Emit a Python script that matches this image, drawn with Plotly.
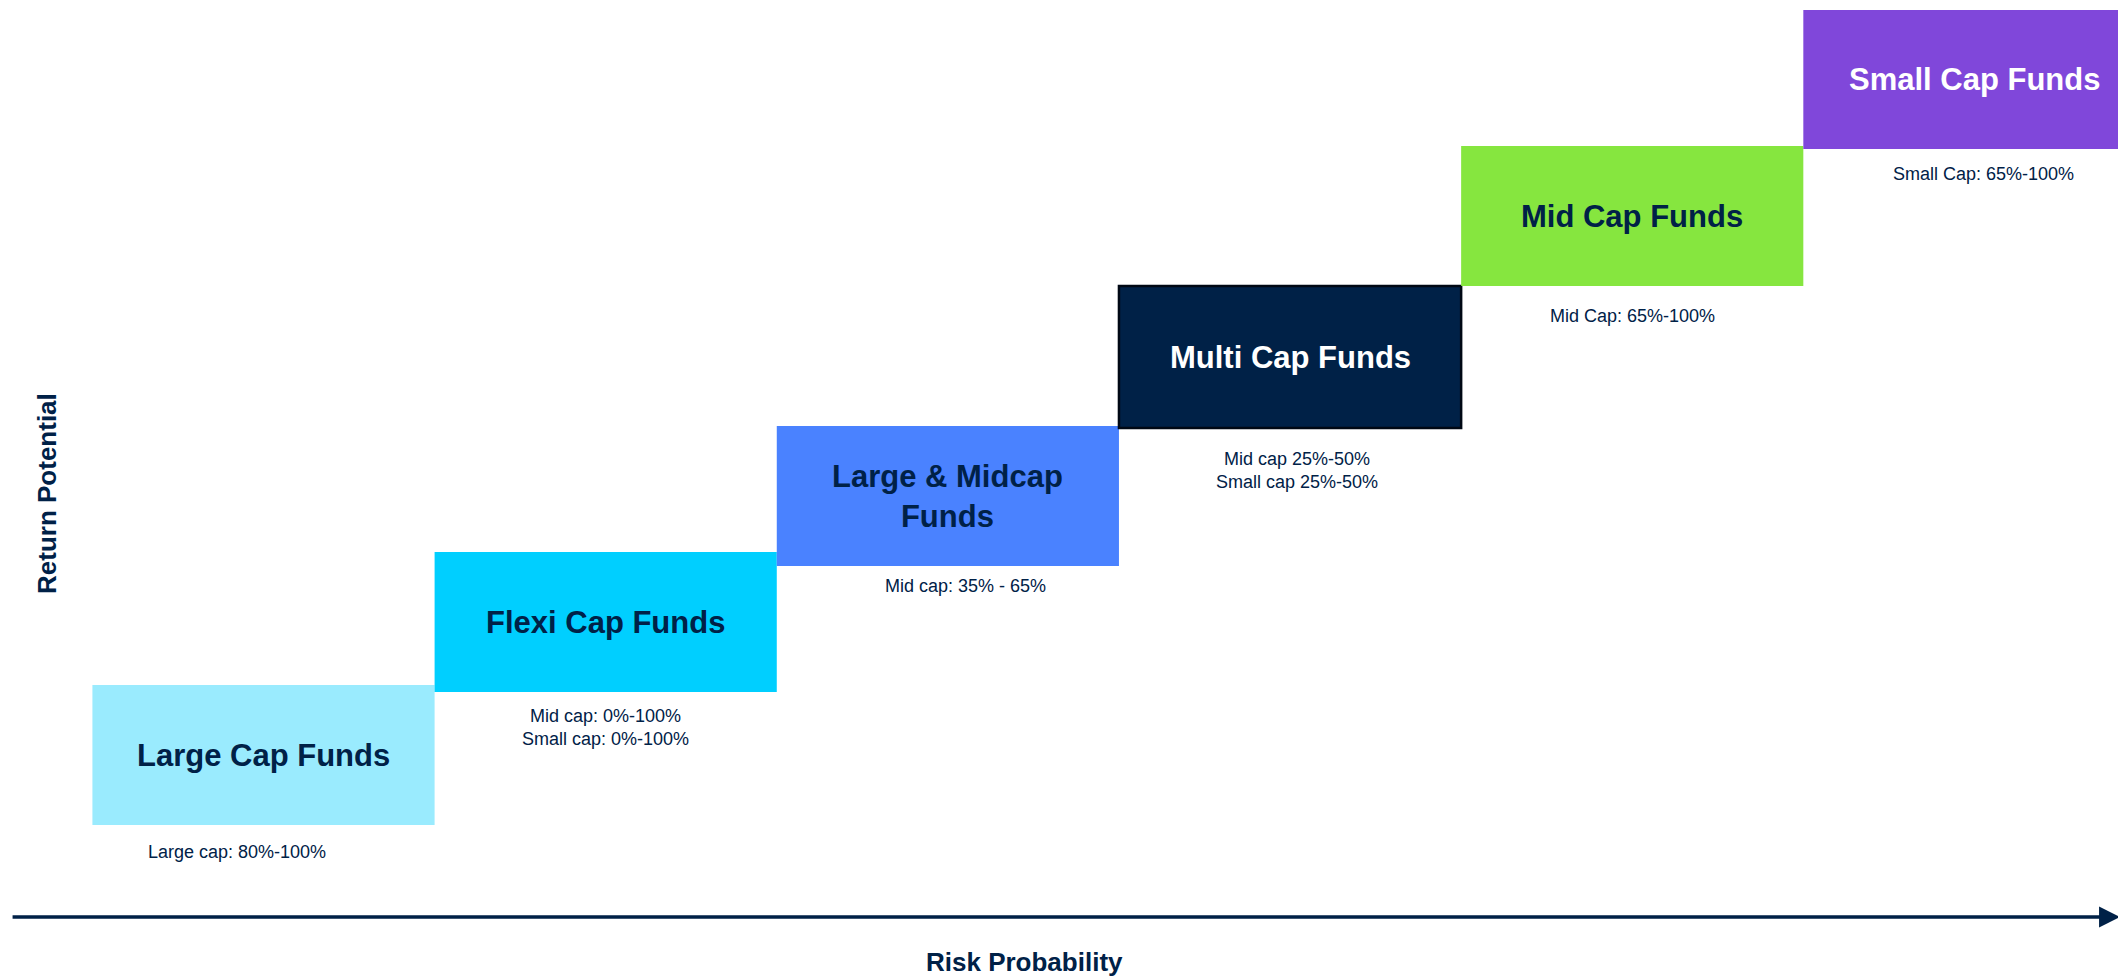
import plotly.graph_objects as go

# fund categories, ordered by risk (x) and return potential (y)
funds = ['Large Cap Funds', 'Flexi Cap Funds', 'Large &amp; Midcap<br>Funds',
         'Multi Cap Funds', 'Mid Cap Funds', 'Small Cap Funds']
allocations = ['Large cap: 80%-100%',
               'Mid cap: 0%-100%<br>Small cap: 0%-100%',
               'Mid cap: 35% - 65%',
               'Mid cap 25%-50%<br>Small cap 25%-50%',
               'Mid Cap: 65%-100%',
               'Small Cap: 65%-100%']
risk = [1, 2, 3, 4, 5, 6]
return_low = [1.55, 2.88, 4.14, 5.52, 6.94, 8.31]
return_high = [2.95, 4.28, 5.54, 6.94, 8.34, 9.70]

colors = ['#9AEBFE', '#00CFFF', '#4A82FF', '#002147', '#86E63F', '#8047DA']
label_colors = ['#002147', '#002147', '#002147', 'white', '#002147', 'white']

NAVY = '#002147'
FONT = 'Liberation Sans, Arial, sans-serif'

# pixel nudges for the allocation notes under each box
note_dx = [-27, 0, 18, 7, 0, 9]
note_dy = [-27, -35, -20, -42, -30, -25]

fig = go.Figure(go.Bar(
    x=risk,
    y=[h - l for h, l in zip(return_high, return_low)],
    base=return_low,
    width=1,
    marker=dict(color=colors,
                line=dict(color='#000814', width=[0, 0, 0, 2.5, 0, 0])),
    hoverinfo='skip',
))

for i in range(len(funds)):
    fig.add_annotation(
        x=risk[i], y=(return_low[i] + return_high[i]) / 2,
        text='<b>' + funds[i] + '</b>', showarrow=False,
        font=dict(family=FONT, size=31, color=label_colors[i]),
        xanchor='center', yanchor='middle',
    )
    fig.add_annotation(
        x=risk[i], y=return_low[i], text=allocations[i], showarrow=False,
        font=dict(family=FONT, size=18, color=NAVY),
        xanchor='center', yanchor='middle',
        xshift=note_dx[i], yshift=note_dy[i],
    )

# risk axis arrow
fig.add_annotation(
    xref='paper', yref='paper', x=0.9972, y=0.0648,
    axref='pixel', ayref='pixel', ax=-2109, ay=0,
    text='', showarrow=True, arrowhead=2, arrowsize=1.2,
    arrowwidth=3.5, arrowcolor=NAVY,
)
fig.add_annotation(
    xref='paper', yref='paper', x=0.4797, y=0.019,
    text='<b>Risk Probability</b>', showarrow=False,
    font=dict(family=FONT, size=26, color=NAVY),
    xanchor='center', yanchor='middle',
)
fig.add_annotation(
    xref='paper', yref='paper', x=0.0184, y=0.501,
    text='<b>Return Potential</b>', showarrow=False, textangle=-90,
    font=dict(family=FONT, size=26, color=NAVY),
    xanchor='center', yanchor='middle',
)

# the page body adds an 8px margin, so the figure is 8px smaller
fig.update_layout(
    width=2118, height=972,
    margin=dict(l=0, r=0, t=0, b=0),
    plot_bgcolor='white', paper_bgcolor='white',
    showlegend=False,
    xaxis=dict(range=[0.2533, 6.443], visible=False, fixedrange=True),
    yaxis=dict(range=[0, 9.72], visible=False, fixedrange=True),
)

fig.write_html("out.html")
